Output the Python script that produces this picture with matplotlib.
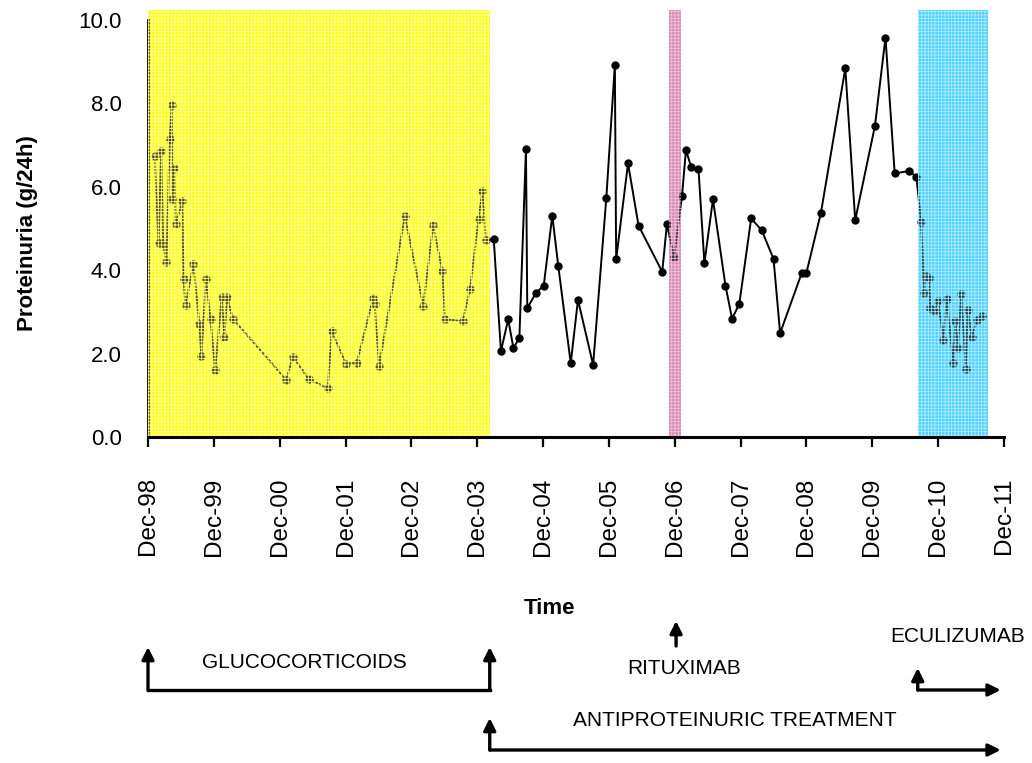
import matplotlib.pyplot as plt
import matplotlib.transforms as mtransforms
import numpy as np

plt.rcParams['font.family'] = ['Liberation Sans', 'DejaVu Sans']
plt.rcParams['hatch.linewidth'] = 0.6

# time in years since Dec-98, proteinuria in g/24h
years = [0.10, 0.16, 0.20, 0.23, 0.28, 0.33, 0.36, 0.37, 0.40, 0.42,
         0.52, 0.54, 0.57, 0.69, 0.78, 0.81, 0.88, 0.95, 1.02, 1.12,
         1.16, 1.20, 1.29, 2.10, 2.20, 2.44, 2.73, 2.79, 3.01, 3.17,
         3.42, 3.44, 3.51, 3.90, 4.18, 4.33, 4.47, 4.51, 4.78, 4.89,
         5.02, 5.08, 5.13,
         5.25, 5.36, 5.47, 5.55, 5.64, 5.74, 5.76, 5.89, 6.01, 6.14,
         6.23, 6.42, 6.53, 6.76, 6.96, 7.09, 7.11, 7.29, 7.45, 7.81,
         7.88, 7.99, 8.11, 8.17, 8.25, 8.36, 8.45, 8.58, 8.77, 8.87,
         8.98, 9.16, 9.32, 9.50, 9.60, 9.93, 10.00, 10.22, 10.59, 10.74,
         11.04, 11.20, 11.34, 11.56, 11.67, 11.74, 11.79, 11.81, 11.86, 11.88,
         11.93, 12.00, 12.08, 12.13, 12.23, 12.26, 12.30, 12.35, 12.42, 12.45,
         12.51, 12.59, 12.66]
proteinuria = [6.75, 4.65, 6.85, 4.62, 4.20, 7.15, 7.95, 5.70, 6.45, 5.10,
               5.65, 3.78, 3.17, 4.15, 2.70, 1.95, 3.78, 2.82, 1.60, 3.36,
               2.40, 3.35, 2.83, 1.37, 1.93, 1.39, 1.17, 2.53, 1.75, 1.78,
               3.33, 3.20, 1.71, 5.30, 3.15, 5.08, 3.98, 2.83, 2.77, 3.55,
               5.22, 5.90, 4.72,
               4.76, 2.06, 2.82, 2.13, 2.38, 6.91, 3.09, 3.45, 3.63, 5.31,
               4.11, 1.77, 3.29, 1.73, 5.72, 8.92, 4.26, 6.56, 5.07, 3.96,
               5.10, 4.31, 5.79, 6.88, 6.47, 6.43, 4.17, 5.70, 3.63, 2.84,
               3.19, 5.24, 4.96, 4.27, 2.49, 3.94, 3.94, 5.38, 8.84, 5.20,
               7.46, 9.58, 6.32, 6.38, 6.24, 5.16, 3.46, 3.86, 3.81, 3.09,
               3.01, 3.25, 2.33, 3.30, 1.77, 2.77, 2.13, 3.43, 1.62, 3.05,
               2.41, 2.81, 2.90]

tick_labels = ["Dec-98", "Dec-99", "Dec-00", "Dec-01", "Dec-02", "Dec-03", "Dec-04",
               "Dec-05", "Dec-06", "Dec-07", "Dec-08", "Dec-09", "Dec-10", "Dec-11"]
y_ticks = [0, 2, 4, 6, 8, 10]

# shaded treatment windows
spans = [(0.0, 5.19), (7.91, 8.09), (11.69, 12.76)]
span_colors = ['#ffff1a', '#d98cb3', '#4dd2ff']
hatch_colors = ['#ffff9a', '#eec2d8', '#b0ecff']

# treatment timeline below the chart
gluco_start, gluco_end = 0.0, 5.19
ritux_time = 8.02
eculi_start = 11.69
anti_start = 5.19
timeline_end = 12.95

W, H = 1032, 763
fig = plt.figure(figsize=(W / 100, H / 100), dpi=100)
ax = fig.add_axes([148 / W, 326 / H, 856 / W, 417 / H])

for (x0, x1), c, hc in zip(spans, span_colors, hatch_colors):
    ax.axvspan(x0, x1, ymax=1.024, color=c, lw=0, zorder=0, clip_on=False)
    ax.axvspan(x0, x1, ymax=1.024, facecolor=(c, 0.3), edgecolor=hc, hatch='+++++',
               lw=0, zorder=3, clip_on=False)

ax.plot(years, proteinuria, color='black', lw=1.4, marker='o', ms=5, zorder=2)

ax.set_xlim(0, 13)
ax.set_ylim(0, 10)
ax.set_xticks(np.arange(len(tick_labels)))
ax.set_xticklabels(tick_labels, rotation=90, fontsize=17.5)
ax.set_yticks(y_ticks)
ax.set_yticklabels([f"{v:.1f}" for v in y_ticks], fontsize=16)
ax.tick_params(axis='x', length=7, width=1.6, pad=22)
ax.tick_params(axis='y', length=0, pad=19)

for s in ['top', 'right']:
    ax.spines[s].set_visible(False)
ax.spines['bottom'].set_linewidth(2.2)
ax.spines['bottom'].set_zorder(5)
ax.spines['left'].set_linewidth(2)
ax.spines['left'].set_zorder(2.5)

ax.set_xlabel("Time", fontsize=16, fontweight='bold')
ax.xaxis.set_label_coords(0.4685, -0.385)
ax.set_ylabel("Proteinuria (g/24h)", fontsize=16, fontweight='bold')
ax.yaxis.label.set_va('center')
ax.yaxis.set_label_coords(-0.141, 0.49)

trans = mtransforms.blended_transform_factory(ax.transData, fig.transFigure)


def fy(py):
    return 1 - py / H


def arrow(x0, y0, x1, y1):
    ax.annotate("", xy=(x1, fy(y1)), xytext=(x0, fy(y0)), xycoords=trans, textcoords=trans,
                arrowprops=dict(arrowstyle='-|>', lw=2.4, color='black',
                                mutation_scale=18, shrinkA=0, shrinkB=0),
                annotation_clip=False)


def hline(x0, x1, py):
    ax.plot([x0, x1], [fy(py), fy(py)], transform=trans, color='black', lw=2.4,
            clip_on=False, solid_capstyle='projecting')


# glucocorticoids bracket
hline(gluco_start, gluco_end, 690)
arrow(gluco_start, 690, gluco_start, 647)
arrow(gluco_end, 690, gluco_end, 647)
ax.text(2.38, fy(662), "GLUCOCORTICOIDS", transform=trans, ha='center', va='center', fontsize=15)

# rituximab
arrow(ritux_time, 646, ritux_time, 621)
ax.text(8.14, fy(668), "RITUXIMAB", transform=trans, ha='center', va='center', fontsize=15)

# eculizumab
arrow(eculi_start, 690, eculi_start, 668)
arrow(eculi_start, 690, timeline_end, 690)
ax.text(12.3, fy(637), "ECULIZUMAB", transform=trans, ha='center', va='center', fontsize=15)

# antiproteinuric treatment
arrow(anti_start, 750, anti_start, 718)
arrow(anti_start, 750, timeline_end, 750)
ax.text(8.91, fy(720), "ANTIPROTEINURIC TREATMENT", transform=trans, ha='center', va='center',
        fontsize=15)

fig.savefig("out.png", dpi=100)
